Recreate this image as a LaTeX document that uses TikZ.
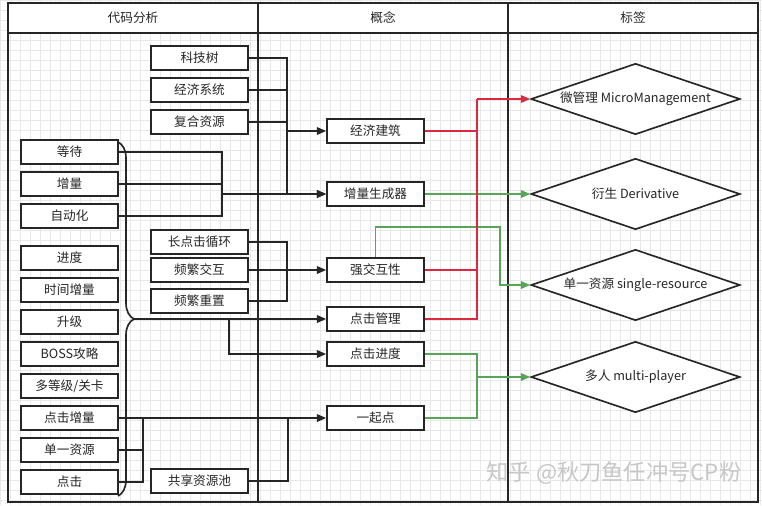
\documentclass[tikz,border=0pt]{standalone}
\usepackage{fontspec}
\setmainfont{Noto Sans CJK SC}
\usepackage{xcolor}
\usepackage{tikz}
\usetikzlibrary{arrows.meta,shapes.geometric,decorations.pathreplacing}
\definecolor{ink}{RGB}{38,38,38}
\definecolor{linkred}{RGB}{222,40,62}
\definecolor{linkgreen}{RGB}{88,164,88}

\begin{document}
\begin{tikzpicture}[x=0.03cm, y=-0.03cm,
    every node/.style={font=\fontsize{10.8}{13}\selectfont, text=ink},
    wire/.style={draw=ink, line width=1.4pt},
    link/.style={wire, -{Triangle[length=8pt,width=6.5pt]}},
    redwire/.style={wire, draw=linkred},
    redlink/.style={link, draw=linkred},
    greenwire/.style={wire, draw=linkgreen},
    greenlink/.style={link, draw=linkgreen},
    box/.style={draw=ink, fill=white, line width=1.4pt, minimum width=2.91cm, minimum height=0.72cm, inner sep=0pt},
    tag/.style={diamond, draw=ink, fill=white, line width=1.4pt, minimum width=6.27cm, minimum height=2.13cm, shape aspect=2.94, inner sep=0pt}]
                \useasboundingbox (0, 0) rectangle (762, 505);
                \fill[white] (0, 0) rectangle (762, 505);
                \draw[black!9, line width=0.4pt, step=0.3cm] (0, 0) grid (762, 505);

                % swimlanes
                \fill[white] (8, 3) rectangle (758, 33);
                \draw[wire] (8, 3) rectangle (758, 502);
                \draw[wire] (8, 33) -- (758, 33);
                \draw[wire] (258, 3) -- (258, 502);
                \draw[wire] (508, 3) -- (508, 502);
                \node (hcode) at (133, 18) {代码分析};
                \node (hconc) at (383, 18) {概念};
                \node (htag) at (633, 18) {标签};

                % code analysis
                \node[box] (wait) at (69.5, 152) {等待};
                \node[box] (inc) at (69.5, 184) {增量};
                \node[box] (auto) at (69.5, 216) {自动化};
                \node[box] (prog) at (69.5, 258) {进度};
                \node[box] (tinc) at (69.5, 290) {时间增量};
                \node[box] (up) at (69.5, 322) {升级};
                \node[box] (boss) at (69.5, 354) {BOSS攻略};
                \node[box] (lvl) at (69.5, 386) {多等级/关卡};
                \node[box] (cinc) at (69.5, 418) {点击增量};
                \node[box] (single) at (69.5, 450) {单一资源};
                \node[box] (click) at (69.5, 482) {点击};

                \node[box] (tech) at (199.5, 58) {科技树};
                \node[box] (econ) at (199.5, 90) {经济系统};
                \node[box] (comp) at (199.5, 122) {复合资源};
                \node[box] (loop) at (199.5, 242) {长点击循环};
                \node[box] (freq) at (199.5, 270) {频繁交互};
                \node[box] (reset) at (199.5, 301) {频繁重置};
                \node[box] (pool) at (199.5, 481) {共享资源池};

                % concepts
                \node[box] (build) at (375.5, 131) {经济建筑};
                \node[box] (gen) at (375.5, 194) {增量生成器};
                \node[box] (inter) at (375.5, 270) {强交互性};
                \node[box] (mgmt) at (375.5, 319) {点击管理};
                \node[box] (cprog) at (375.5, 354) {点击进度};
                \node[box] (together) at (375.5, 418) {一起点};

                % tags
                \node[tag] (micro) at (635.5, 99) {微管理 MicroManagement};
                \node[tag] (deriv) at (635.5, 194) {衍生 Derivative};
                \node[tag] (sres) at (635.5, 285) {单一资源 single-resource};
                \node[tag] (multi) at (635.5, 377) {多人 multi-player};

                \node[text=black!22, font=\fontsize{19}{22}\selectfont] (mark) at (614, 473) {知乎 @秋刀鱼任冲号CP粉};

                \coordinate (jb) at (287, 131);
                \coordinate (jg) at (222, 194);
                \coordinate (ji) at (287, 270);
                \coordinate (tip) at (134, 319);
                \coordinate (jp) at (229, 354);
                \coordinate (jc) at (143, 418);
                \coordinate (js) at (288, 418);
                \coordinate (jr) at (477, 99);
                \coordinate (jt) at (500, 227);
                \coordinate (jm) at (477, 377);

                \draw[wire, decorate, decoration={brace, amplitude=0.48cm}] (118, 142) -- (118, 496);

                \draw[wire] (tech) -| (jb);
                \draw[wire] (econ) -| (jb);
                \draw[wire] (comp) -| (jb);
                \draw[link] (jb) -- (build);
                \draw[link] (jb) |- (gen);
                \draw[wire] (wait) -| (jg);
                \draw[wire] (inc) -| (jg);
                \draw[wire] (auto) -| (jg);
                \draw[link] (jg) -- (gen);
                \draw[wire] (loop) -| (ji);
                \draw[wire] (reset) -| (ji);
                \draw[link] (freq) -- (inter);
                \draw[link] (tip) -- (mgmt);
                \draw[link] (tip) -| (jp) -- (cprog);
                \draw[link] (cinc) -- (together);
                \draw[wire] (single) -| (jc);
                \draw[wire] (click) -| (jc);
                \draw[wire] (pool) -| (js);

                \draw[greenlink] (gen) -- (deriv);
                \draw[greenlink] (inter) |- (jt) |- (sres);
                \draw[greenwire] (cprog) -| (jm);
                \draw[greenwire] (together) -| (jm);
                \draw[greenlink] (jm) -- (multi);

                \draw[redwire] (build) -| (jr);
                \draw[redwire] (inter) -| (jr);
                \draw[redwire] (mgmt) -| (jr);
                \draw[redlink] (jr) -- (micro);
            \end{tikzpicture}
\end{document}
